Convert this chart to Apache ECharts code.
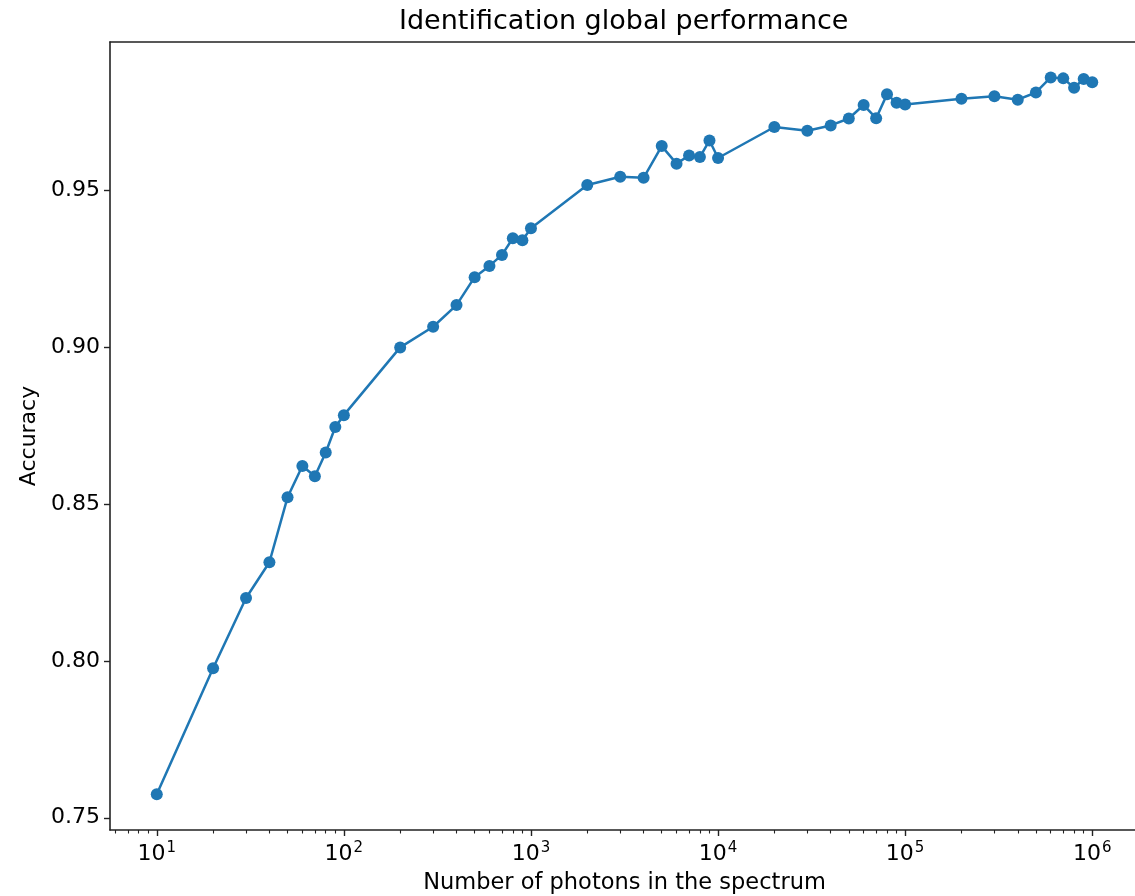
<!DOCTYPE html>
<html>
<head>
<meta charset="utf-8">
<script src="https://cdn.jsdelivr.net/npm/echarts@6/dist/echarts.min.js"></script>
<style>
html,body{margin:0;padding:0;background:#fff;}
#chart{width:1135px;height:896px;}
</style>
</head>
<body>
<div id="chart"></div>
<script>
// ---- data ----
const photons = [10,20,30,40,50,60,70,80,90,100,
  200,300,400,500,600,700,800,900,1000,
  2000,3000,4000,5000,6000,7000,8000,9000,10000,
  20000,30000,40000,50000,60000,70000,80000,90000,100000,
  200000,300000,400000,500000,600000,700000,800000,900000,1000000];
const accuracy = [0.7575,0.7977,0.8201,0.8315,0.8522,0.8622,0.8589,0.8665,0.8746,0.8784,
  0.9000,0.9066,0.9135,0.9224,0.9260,0.9295,0.9348,0.9342,0.9380,
  0.9518,0.9544,0.9541,0.9642,0.9586,0.9612,0.9607,0.9660,0.9604,
  0.9703,0.9691,0.9708,0.9730,0.9773,0.9731,0.9807,0.9780,0.9775,
  0.9793,0.9801,0.9790,0.9813,0.9861,0.9858,0.9828,0.9856,0.9846];
const xTickExponents = [1,2,3,4,5,6];
const xTickBase = '10';
const yTicks = [0.75,0.80,0.85,0.90,0.95];
const titleText = 'Identification global performance';
const xName = 'Number of photons in the spectrum';
const yName = 'Accuracy';

// ---- build ----
const minorTicks = [];
for (let e = 0; e <= 6; e++) {
  for (let m = 2; m <= 9; m++) minorTicks.push(Math.log10(m * Math.pow(10, e)));
}
const xMin = 0.75, xMax = 6.25;
const yMin = 0.7461, yMax = 0.9974;
const seriesData = photons.map((p, i) => [Math.log10(p), accuracy[i]]);
const font = 'DejaVu Sans';
const axisColor = '#222';

const chart = echarts.init(document.getElementById('chart'), null, {renderer: 'canvas'});
chart.setOption({
  animation: false,
  backgroundColor: '#ffffff',
  title: {
    text: titleText, left: 394, top: 3,
    textStyle: {fontFamily: font, fontSize: 27, fontWeight: 'normal', color: '#000'}
  },
  grid: {left: 110, right: -4, top: 42, bottom: 66, containLabel: false, outerBoundsMode: 'none'},
  xAxis: [
    {
      type: 'value', position: 'bottom', min: xMin, max: xMax,
      name: xName, nameLocation: 'middle', nameGap: 42,
      nameTextStyle: {fontFamily: font, fontSize: 22.5, color: '#000'},
      axisLine: {show: true, onZero: false, lineStyle: {color: axisColor, width: 1.6}},
      axisTick: {show: true, customValues: xTickExponents, length: 6, lineStyle: {color: axisColor, width: 1.4}},
      axisLabel: {show: true, customValues: xTickExponents, margin: 11,
        fontFamily: font, fontSize: 22, color: '#000',
        formatter: v => '{b|' + xTickBase + '}{e|' + Math.round(v) + '}',
        rich: {
          b: {fontFamily: font, fontSize: 22, lineHeight: 26, color: '#000'},
          e: {fontFamily: font, fontSize: 15, verticalAlign: 'top', color: '#000', padding: [0, 0, 0, 1]}
        }},
      splitLine: {show: false}
    },
    {
      type: 'value', position: 'bottom', min: xMin, max: xMax,
      axisLine: {show: false},
      axisTick: {show: true, customValues: minorTicks, length: 3.5, lineStyle: {color: axisColor, width: 1.1}},
      axisLabel: {show: false},
      splitLine: {show: false}
    },
    {
      type: 'value', position: 'top', min: xMin, max: xMax,
      axisLine: {show: true, onZero: false, lineStyle: {color: axisColor, width: 1.6}},
      axisTick: {show: false}, axisLabel: {show: false}, splitLine: {show: false}
    }
  ],
  yAxis: [
    {
      type: 'value', position: 'left', min: yMin, max: yMax,
      name: yName, nameLocation: 'middle', nameGap: 70, nameRotate: 90,
      nameTextStyle: {fontFamily: font, fontSize: 22, color: '#000'},
      axisLine: {show: true, onZero: false, lineStyle: {color: axisColor, width: 1.6}},
      axisTick: {show: true, customValues: yTicks, length: 6, lineStyle: {color: axisColor, width: 1.4}},
      axisLabel: {show: true, customValues: yTicks, margin: 10,
        fontFamily: font, fontSize: 22, color: '#000',
        formatter: v => v.toFixed(2)},
      splitLine: {show: false}
    }
  ],
  series: [{
    type: 'line',
    xAxisIndex: 0, yAxisIndex: 0,
    data: seriesData,
    symbol: 'circle', symbolSize: 12,
    lineStyle: {color: '#1f77b4', width: 2.5},
    itemStyle: {color: '#1f77b4', borderWidth: 0},
    clip: false
  }]
});
</script>
</body>
</html>
